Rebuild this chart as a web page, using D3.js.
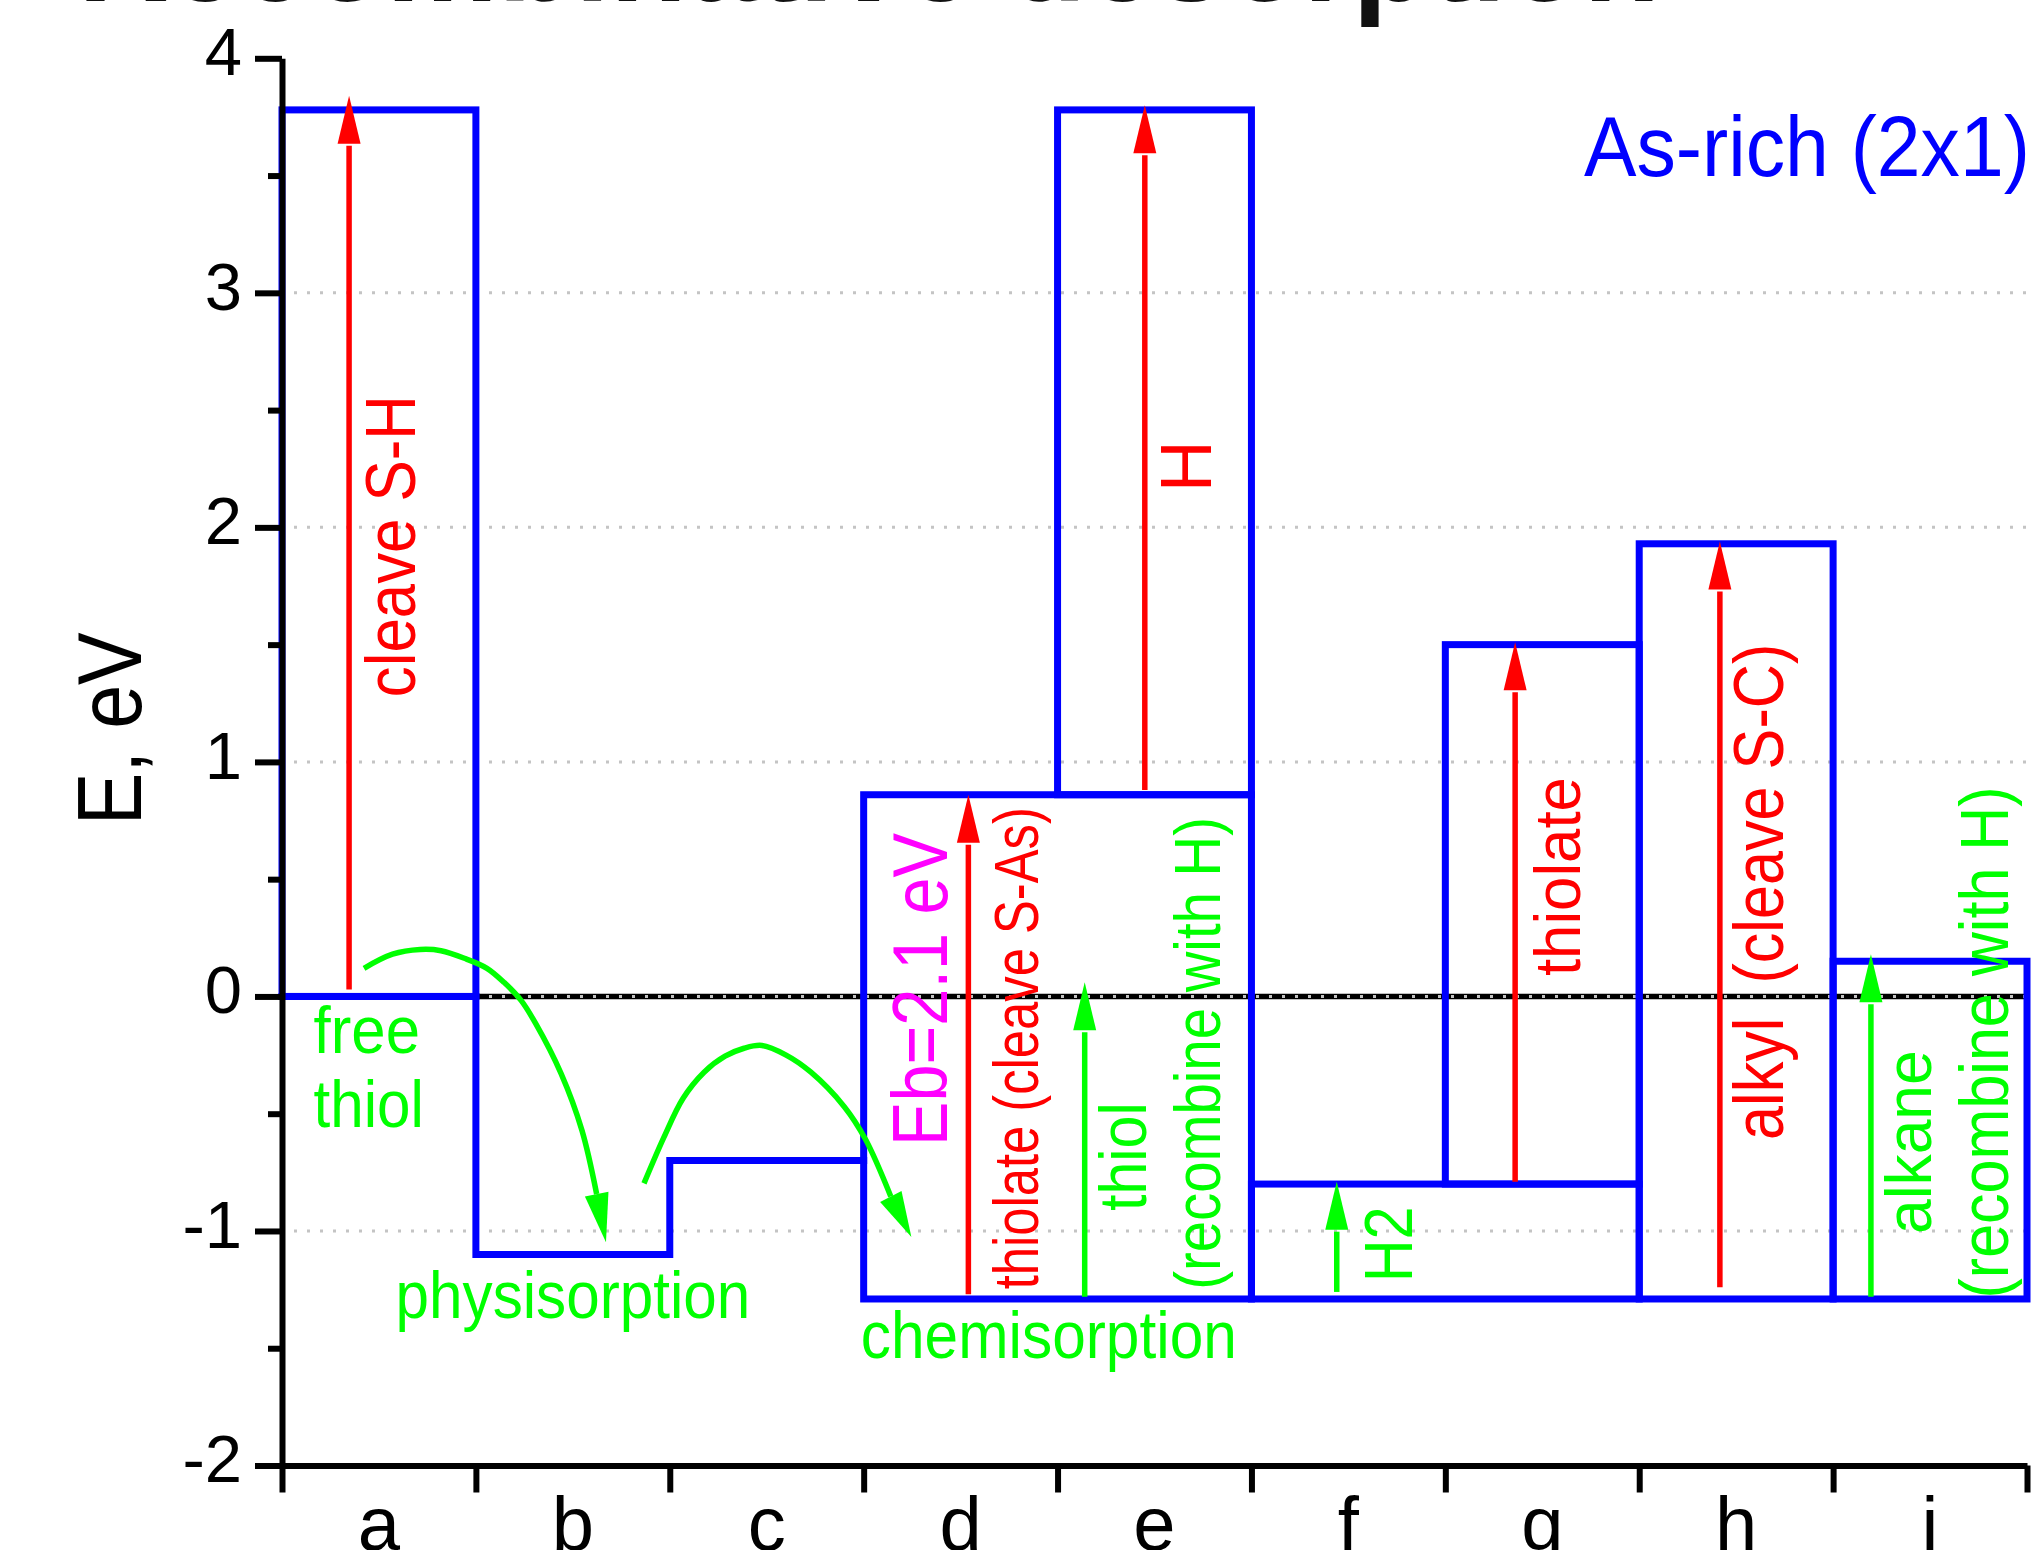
<!DOCTYPE html>
<html>
<head>
<meta charset="utf-8">
<script src="https://cdn.jsdelivr.net/npm/d3@7/dist/d3.min.js"></script>
<style>
  html, body { margin: 0; padding: 0; background: #fff; }
  svg { display: block; }
  text { white-space: pre; }
</style>
</head>
<body>
<svg id="chart" width="2031" height="1550"></svg>
<script>
// ------------------------------------------------------------------ DATA
const categories   = ['a', 'b', 'c', 'd', 'e', 'f', 'g', 'h', 'i'];
const yTicks       = [-2, -1, 0, 1, 2, 3, 4];
const yMinorTicks  = [-1.5, -0.5, 0.5, 1.5, 2.5, 3.5];
const gridLevels   = [-1, 0, 1, 2, 3];

// energy boxes (eV): first category, last category, lower level, upper level
const boxFrom = ['a', 'd', 'e', 'f', 'g', 'h', 'i'];
const boxTo   = ['a', 'e', 'e', 'g', 'g', 'h', 'i'];
const boxLow  = [0.00, -1.29, 0.86, -1.29, -0.80, -1.29, -1.29];
const boxHigh = [3.78,  0.86, 3.78, -0.80,  1.50,  1.93,  0.15];

// step levels of the adsorption path (free thiol -> physisorption -> barrier)
const stepCats   = ['a', 'b', 'c'];
const stepLevels = [0.00, -1.10, -0.70];

// vertical transitions (eV): red = bond cleavage, green = recombination
const redCats  = ['a', 'e', 'd', 'g', 'h'];
const redPos   = [0.346, 0.45, 0.54, 0.36, 0.416];   // position inside category band
const redFrom  = [0.03, 0.88, -1.27, -0.79, -1.24];
const redTo    = [3.84, 3.80, 0.86, 1.51, 1.94];

const greenCats = ['e', 'f', 'i'];
const greenPos  = [0.14, 0.44, 0.195];
const greenFrom = [-1.28, -1.26, -1.28];
const greenTo   = [0.06, -0.79, 0.18];

// curved green arrows: [category coordinate, energy]; last point = arrow tip
const hopPhysi = [[0.423, 0.12], [0.57, 0.18], [0.712, 0.20], [0.82, 0.195], [0.949, 0.16],
                  [1.057, 0.12], [1.145, 0.06], [1.233, -0.017], [1.308, -0.115], [1.439, -0.328],
                  [1.547, -0.571], [1.623, -0.843], [1.671, -1.048]];
const hopChemi = [[1.867, -0.797], [1.97, -0.60], [2.068, -0.435], [2.177, -0.323], [2.285, -0.255],
                  [2.383, -0.221], [2.475, -0.209], [2.60, -0.25], [2.728, -0.323], [2.90, -0.47],
                  [3.01, -0.61], [3.14, -0.853], [3.246, -1.026]];

// annotation texts
const verticalTexts   = ['cleave S-H', 'H', 'Eb=2.1 eV', 'thiolate (cleave S-As)', 'thiol',
                         '(recombine with H)', 'H2', 'thiolate', 'alkyl  (cleave S-C)', 'alkane',
                         '(recombine with H)'];
const horizontalTexts = ['free', 'thiol', 'physisorption', 'chemisorption', 'As-rich (2x1)'];
const titleText  = 'Recombinative desorption';
const yAxisTitle = 'E, eV';

// ------------------------------------------------------------------ LAYOUT / STYLE
const RED = '#ff0000', GREEN = '#00ff00', BLUE = '#0000ff', MAGENTA = '#ff00ff';
const FONT = "'Liberation Sans', Arial, Helvetica, sans-serif";

// anchors in data coordinates: u = category coordinate (baseline), E0..E1 = extent along energy
const vLayout = [
  { u: 0.686, E0: 1.276,  E1: 2.564, size: 70, color: RED },
  { u: 4.791, E0: 2.150,  E1: null,  size: 72, color: RED },
  { u: 3.431, E0: -0.638, E1: 0.697, size: 77, color: MAGENTA },
  { u: 3.899, E0: -1.249, E1: 0.807, size: 63, color: RED },
  { u: 4.456, E0: -0.915, E1: -0.452, size: 66, color: GREEN },
  { u: 4.836, E0: -1.251, E1: 0.765, size: 64, color: GREEN },
  { u: 5.829, E0: -1.219, E1: -0.895, size: 68, color: GREEN },
  { u: 6.694, E0: 0.087,  E1: 0.935, size: 64, color: RED },
  { u: 7.741, E0: -0.612, E1: 1.504, size: 70, color: RED },
  { u: 8.504, E0: -1.013, E1: -0.230, size: 64, color: GREEN },
  { u: 8.904, E0: -1.288, E1: 0.896, size: 69, color: GREEN }
];
const hLayout = [
  { u0: 0.163, u1: 0.712, E: -0.243, size: 67, color: GREEN },
  { u0: 0.163, u1: 0.732, E: -0.558, size: 67, color: GREEN },
  { u0: 0.586, u1: 2.415, E: -1.369, size: 67, color: GREEN },
  { u0: 2.985, u1: 4.925, E: -1.540, size: 67, color: GREEN },
  { u0: 6.715, u1: 9.015, E: 3.497,  size: 86, color: BLUE }
];

const X0 = 282, X1 = 2027, YTOP = 58.3, YBOT = 1465.5;

const svg = d3.select('#chart').attr('font-family', FONT);

const x = d3.scaleBand().domain(categories).range([X0, X1]);
const u = d3.scaleLinear().domain([0, categories.length]).range([X0, X1]);
const y = d3.scaleLinear().domain([-2, 4]).range([YBOT, YTOP]);
const bw = x.bandwidth();

// ------------------------------------------------------------------ GRID + ZERO LINE
const gridG = svg.append('g');
gridG.append('line')
  .attr('x1', X0).attr('x2', X1).attr('y1', y(0)).attr('y2', y(0))
  .attr('stroke', '#000').attr('stroke-width', 5.5);
gridG.selectAll('line.grid').data(gridLevels).join('line')
  .attr('class', 'grid')
  .attr('x1', X0 + 12).attr('x2', X1)
  .attr('y1', d => y(d)).attr('y2', d => y(d))
  .attr('stroke', '#c4c4c4').attr('stroke-width', 3).attr('stroke-dasharray', '3,10');

// ------------------------------------------------------------------ ENERGY LEVELS
const blueG = svg.append('g')
  .attr('fill', 'none').attr('stroke', BLUE).attr('stroke-width', 7)
  .attr('stroke-linejoin', 'miter').attr('stroke-linecap', 'square');

blueG.selectAll('rect').data(boxFrom.map((f, i) => i)).join('rect')
  .attr('x', i => x(boxFrom[i]))
  .attr('width', i => x(boxTo[i]) + bw - x(boxFrom[i]))
  .attr('y', i => y(boxHigh[i]))
  .attr('height', i => y(boxLow[i]) - y(boxHigh[i]));

const stepPts = [];
stepCats.forEach((c, i) => {
  stepPts.push([x(c), y(stepLevels[i])]);
  stepPts.push([x(c) + bw, y(stepLevels[i])]);
});
blueG.append('path').attr('d', d3.line()(stepPts));

// ------------------------------------------------------------------ ARROWS
const arrowG = svg.append('g');
function arrowHead(g, bx, by, tx, ty, half, color) {
  const dx = tx - bx, dy = ty - by, L = Math.hypot(dx, dy);
  const nx = -dy / L, ny = dx / L;
  g.append('path')
    .attr('d', `M${tx},${ty}L${bx + nx * half},${by + ny * half}L${bx - nx * half},${by - ny * half}Z`)
    .attr('fill', color);
}
function straightArrow(g, xx, e0, e1, color) {
  const y0 = y(e0), y1 = y(e1), head = 48;
  const yb = y1 + head;
  g.append('line').attr('x1', xx).attr('x2', xx).attr('y1', y0).attr('y2', yb + 2)
    .attr('stroke', color).attr('stroke-width', 5.5);
  arrowHead(g, xx, yb, xx, y1, 11.5, color);
}
redCats.forEach((c, i) => straightArrow(arrowG, x(c) + redPos[i] * bw, redFrom[i], redTo[i], RED));
greenCats.forEach((c, i) => straightArrow(arrowG, x(c) + greenPos[i] * bw, greenFrom[i], greenTo[i], GREEN));

const curve = d3.line().x(d => u(d[0])).y(d => y(d[1])).curve(d3.curveCatmullRom.alpha(0.5));
[hopPhysi, hopChemi].forEach(pts => {
  const n = pts.length;
  arrowG.append('path').attr('d', curve(pts.slice(0, n - 1)))
    .attr('fill', 'none').attr('stroke', GREEN).attr('stroke-width', 5.5);
  arrowHead(arrowG, u(pts[n - 2][0]), y(pts[n - 2][1]), u(pts[n - 1][0]), y(pts[n - 1][1]), 12, GREEN);
});

// ------------------------------------------------------------------ AXES
function styleAxis(g) {
  g.attr('font-family', FONT);
  g.select('.domain').attr('stroke-width', 6).attr('stroke', '#000');
  g.selectAll('.tick line').attr('stroke-width', 6).attr('stroke', '#000');
}
const yAxisG = svg.append('g').attr('transform', `translate(${X0},0)`)
  .call(d3.axisLeft(y).tickValues(yTicks).tickSize(27).tickSizeOuter(0).tickPadding(13)
    .tickFormat(d => String(d)));
styleAxis(yAxisG);
yAxisG.attr('font-size', 67);
yAxisG.selectAll('.tick text').attr('dy', '0.245em').attr('fill', '#000');

const yMinorG = svg.append('g').attr('transform', `translate(${X0},0)`)
  .call(d3.axisLeft(y).tickValues(yMinorTicks).tickSize(14).tickSizeOuter(0).tickFormat(''));
styleAxis(yMinorG);
yMinorG.select('.domain').remove();

const xTickG = svg.append('g').attr('transform', `translate(0,${YBOT})`)
  .call(d3.axisBottom(u).tickValues(d3.range(0, categories.length + 1)).tickSize(27)
    .tickSizeOuter(0).tickFormat(''));
styleAxis(xTickG);

const xLabG = svg.append('g').attr('transform', `translate(0,${YBOT})`)
  .call(d3.axisBottom(x).tickSize(0).tickPadding(0));
xLabG.select('.domain').remove();
xLabG.attr('font-size', 76).attr('font-family', FONT);
xLabG.selectAll('.tick text').attr('y', 84).attr('dy', '0').attr('fill', '#000');

// ------------------------------------------------------------------ TEXTS
verticalTexts.forEach((t, i) => {
  const l = vLayout[i];
  const y0 = y(l.E0);
  const el = svg.append('text')
    .attr('transform', `translate(${u(l.u)},${y0}) rotate(-90)`)
    .attr('font-size', l.size).attr('fill', l.color).text(t);
  if (l.E1 !== null) el.attr('textLength', y0 - y(l.E1)).attr('lengthAdjust', 'spacingAndGlyphs');
});

horizontalTexts.forEach((t, i) => {
  const l = hLayout[i];
  svg.append('text')
    .attr('x', u(l.u0)).attr('y', y(l.E))
    .attr('font-size', l.size).attr('fill', l.color)
    .attr('textLength', u(l.u1) - u(l.u0)).attr('lengthAdjust', 'spacingAndGlyphs')
    .text(t);
});

svg.append('text')
  .attr('transform', 'translate(140.6,825.3) rotate(-90)')
  .attr('font-size', 90).attr('fill', '#000')
  .attr('textLength', 193).attr('lengthAdjust', 'spacingAndGlyphs')
  .text(yAxisTitle);

svg.append('text')
  .attr('x', 78).attr('y', 1)
  .attr('font-size', 126).attr('font-weight', 'bold').attr('fill', '#111')
  .text(titleText);
</script>
</body>
</html>
